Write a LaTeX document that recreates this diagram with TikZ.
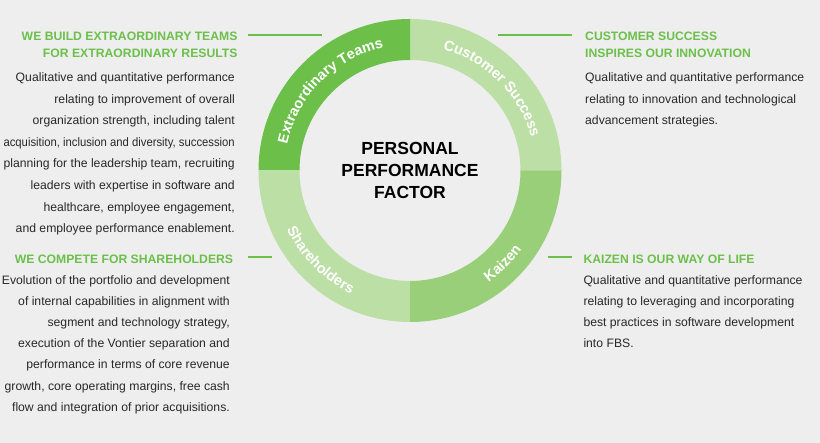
\documentclass[tikz,border=0pt]{standalone}
\usepackage{fontspec}
\setmainfont{Liberation Sans}
\usetikzlibrary{calc, decorations.text}
\definecolor{page-bg}{RGB}{238,238,238}
\definecolor{teams-color}{RGB}{108,192,74}
\definecolor{customer-color}{RGB}{188,223,166}
\definecolor{kaizen-color}{RGB}{153,207,120}
\definecolor{holders-color}{RGB}{188,223,166}
\definecolor{head-color}{RGB}{108,192,74}
\definecolor{body-color}{RGB}{40,40,40}
\newcommand{\ringfont}{\fontsize{14.5}{14.5}\selectfont\bfseries\color{white}}

\begin{document}
\begin{tikzpicture}[x=1pt, y=1pt,
    heading/.style={font=\fontsize{12.2}{16.6}\selectfont\bfseries, text=head-color, inner sep=0pt},
    body/.style={font=\fontsize{12.2}{21.6}\selectfont, text=body-color, inner sep=0pt},
    rule/.style={draw=head-color, line width=1.5pt}]
    % Background
    \fill[page-bg] (0,0) rectangle (820,443);
    \useasboundingbox (0,0) rectangle (820,443);
    \coordinate (centre) at (410,272.5);

    % Ring quadrants
    \foreach \from/\col in {0/customer-color, 90/teams-color, 180/holders-color, 270/kaizen-color}
        \fill[\col] ([shift={(\from:151.5)}]centre) arc[start angle=\from, delta angle=90, radius=151.5]
            -- ([shift={(\from+90:110.5)}]centre) arc[start angle=\from+90, delta angle=-90, radius=110.5] -- cycle;

    % Curved labels (top ones clockwise, bottom ones anticlockwise)
    \path[decorate, decoration={text along path, text align=center, text={|\ringfont|Extraordinary Teams}}]
        ([shift={(180:125.5)}]centre) arc[start angle=180, end angle=90, radius=125.5];
    \path[decorate, decoration={text along path, text align=center, text={|\ringfont|Customer Success}}]
        ([shift={(90:125.5)}]centre) arc[start angle=90, end angle=0, radius=125.5];
    \path[decorate, decoration={text along path, text align=center, text={|\ringfont|Kaizen}}]
        ([shift={(270:136.5)}]centre) arc[start angle=270, end angle=360, radius=136.5];
    \path[decorate, decoration={text along path, text align=center, text={|\ringfont|Shareholders}}]
        ([shift={(180:136.5)}]centre) arc[start angle=180, end angle=270, radius=136.5];

    % Centre title
    \node[font=\fontsize{17.5}{21.7}\selectfont\bfseries, align=center, text=black] (ppf) at (centre) {PERSONAL\\PERFORMANCE\\FACTOR};

    % Top left - teams
    \node[heading, align=right, anchor=north east] (teams-head) at (237.7,411) {WE BUILD EXTRAORDINARY TEAMS\\FOR EXTRAORDINARY RESULTS};
    \node[body, align=right, anchor=north east] (teams-text) at (235,370.5) {Qualitative and quantitative performance\\relating to improvement of overall\\organization strength, including talent\\\scalebox{0.925}[1]{acquisition, inclusion and diversity, succession}\\planning for the leadership team, recruiting\\leaders with expertise in software and\\healthcare, employee engagement,\\and employee performance enablement.};

    % Top right - customer success
    \node[heading, align=left, anchor=north west] (customer-head) at (585,411) {CUSTOMER SUCCESS\\INSPIRES OUR INNOVATION};
    \node[body, align=left, anchor=north west] (customer-text) at (585,370.5) {Qualitative and quantitative performance\\relating to innovation and technological\\advancement strategies.};

    % Bottom left - shareholders
    \node[heading, align=right, anchor=north east] (holders-head) at (233.3,188) {WE COMPETE FOR SHAREHOLDERS};
    \node[body, font=\fontsize{12.2}{21.2}\selectfont, align=right, anchor=north east] (holders-text) at (230,168) {Evolution of the portfolio and development\\of internal capabilities in alignment with\\segment and technology strategy,\\execution of the Vontier separation and\\performance in terms of core revenue\\growth, core operating margins, free cash\\flow and integration of prior acquisitions.};

    % Bottom right - kaizen
    \node[heading, align=left, anchor=north west] (kaizen-head) at (583.3,188) {KAIZEN IS OUR WAY OF LIFE};
    \node[body, font=\fontsize{12.2}{21.3}\selectfont, align=left, anchor=north west] (kaizen-text) at (583.3,168) {Qualitative and quantitative performance\\relating to leveraging and incorporating\\best practices in software development\\into FBS.};

    % Leader rules
    \coordinate (teams-a) at (248,408);    \coordinate (teams-b) at (322,408);
    \coordinate (customer-a) at (498,408); \coordinate (customer-b) at (572,408);
    \coordinate (holders-a) at (248,186);  \coordinate (holders-b) at (272,186);
    \coordinate (kaizen-a) at (548,186);   \coordinate (kaizen-b) at (572,186);
    \draw[rule] (teams-a) -- (teams-b);
    \draw[rule] (customer-a) -- (customer-b);
    \draw[rule] (holders-a) -- (holders-b);
    \draw[rule] (kaizen-a) -- (kaizen-b);
\end{tikzpicture}
\end{document}
